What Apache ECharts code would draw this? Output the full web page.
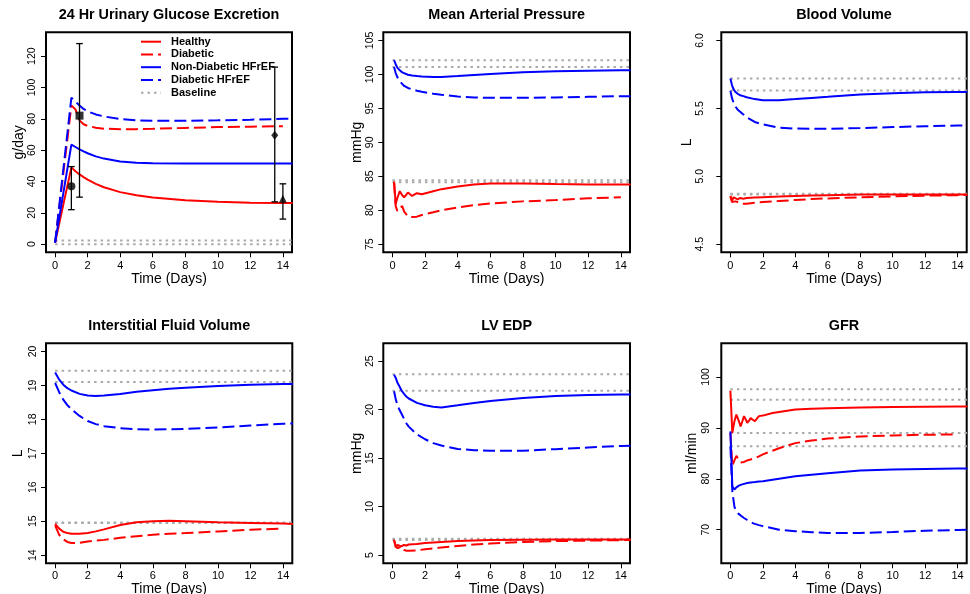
<!DOCTYPE html>
<html><head><meta charset="utf-8">
<script src="https://cdn.jsdelivr.net/npm/echarts@6/dist/echarts.min.js"></script>
<style>html,body{margin:0;padding:0;background:#fff}#c{width:970px;height:594px}</style>
</head><body><div id="c"></div><script>
// ---------------- DATA ----------------
const seriesNames = ['Healthy', 'Diabetic', 'Non-Diabetic HFrEF', 'Diabetic HFrEF'];
const panelTitles = ['24 Hr Urinary Glucose Excretion', 'Mean Arterial Pressure', 'Blood Volume',
                     'Interstitial Fluid Volume', 'LV EDP', 'GFR'];
const yUnits = ['g/day', 'mmHg', 'L', 'L', 'mmHg', 'ml/min'];
const xTicks = [0, 2, 4, 6, 8, 10, 12, 14];
const yTicks = [
  [0, 20, 40, 60, 80, 100, 120],
  [75, 80, 85, 90, 95, 100, 105],
  [4.5, 5.0, 5.5, 6.0],
  [14, 15, 16, 17, 18, 19, 20],
  [5, 10, 15, 20, 25],
  [70, 80, 90, 100]
];
const yMin = [-5.2, 73.8, 4.44, 13.76, 4.16, 63.4];
const yMax = [135.2, 106.2, 6.06, 20.24, 26.84, 106.6];

// Panel 1: 24 Hr urinary glucose excretion (g/day)
const tUGE = [0, 1, 1.25, 1.5, 1.75, 2, 2.5, 3, 4, 5, 6, 8, 10, 12, 14, 14.6];
const ugeHealthy  = [1, 49, 46.5, 44.5, 42.8, 41.2, 38.5, 36.3, 33.2, 31.2, 29.8, 28, 27, 26.5, 26.2, 26.2];
const ugeDiabetic = [1, 88.5, 86, 79, 76.5, 75.5, 74.3, 73.7, 73.3, 73.4, 73.6, 74.2, 74.7, 75, 75.3, null];
const ugeHF       = [1, 63.5, 62, 60.5, 59.2, 58, 56, 54.6, 52.8, 52, 51.6, 51.4, 51.4, 51.5, 51.5, 51.5];
const ugeDiabHF   = [1, 93.5, 91, 88.5, 86.3, 84.7, 82.8, 81.5, 79.8, 79, 78.7, 78.7, 79, 79.4, 80, 80];
const ugeBaseline = [0, 2.3];
// observed data with error bars
const obsDay   = [1, 1.5, 13.5, 14];
const obsMean  = [37, 82, 69.5, 29];
const obsLow   = [22, 30, 27, 16];
const obsHigh  = [49.5, 128, 113, 38.5];
const obsShape = ['circle', 'rect', 'diamond', 'triangle'];

// Panel 2: mean arterial pressure (mmHg)
const tMAP = [0.1, 0.2, 0.3, 0.45, 0.6, 0.72, 0.95, 1.2, 1.5, 1.8, 2.5, 3, 4, 5, 6, 8, 10, 12, 14, 14.6];
const mapHealthy  = [84.2, 80.9, 81.8, 82.8, 82.2, 81.9, 82.6, 82.1, 82.5, 82.35, 82.8, 83.1, 83.5, 83.8, 83.95, 83.95, 83.85, 83.8, 83.8, 83.8];
const mapDiabetic = [84.1, 80.6, 79.9, 80.4, 80.6, 79.8, 79.1, 79.0, 79.05, 79.3, 79.7, 80.0, 80.4, 80.75, 81.0, 81.3, 81.5, 81.75, 81.9, null];
const mapHF       = [102.1, 101.5, 101.0, 100.6, 100.3, 100.1, 99.95, 99.85, 99.75, 99.7, 99.62, 99.62, 99.75, 99.9, 100.05, 100.3, 100.45, 100.55, 100.6, 100.6];
const mapDiabHF   = [101.1, 100.2, 99.6, 99.0, 98.6, 98.3, 98.0, 97.8, 97.6, 97.45, 97.15, 97.0, 96.75, 96.6, 96.55, 96.55, 96.6, 96.7, 96.8, 96.8];
const mapBaseline = [102.1, 101.1, 84.4, 84.1];

// Panel 3: blood volume (L)
const tBV = [0, 0.1, 0.2, 0.3, 0.45, 0.6, 0.8, 1, 1.5, 2, 3, 4, 5, 6, 8, 10, 12, 14, 14.6];
const bvHealthy  = [4.855, 4.82, 4.845, 4.835, 4.83, 4.84, 4.835, 4.84, 4.843, 4.846, 4.85, 4.855, 4.858, 4.861, 4.865, 4.866, 4.866, 4.865, 4.865];
const bvDiabetic = [4.85, 4.81, 4.80, 4.815, 4.81, 4.80, 4.797, 4.798, 4.805, 4.81, 4.818, 4.825, 4.832, 4.837, 4.845, 4.852, 4.857, 4.861, 4.862];
const bvHF       = [5.72, 5.67, 5.64, 5.622, 5.607, 5.597, 5.59, 5.582, 5.568, 5.56, 5.56, 5.568, 5.577, 5.585, 5.602, 5.612, 5.618, 5.62, 5.62];
const bvDiabHF   = [5.63, 5.575, 5.54, 5.515, 5.49, 5.475, 5.455, 5.435, 5.40, 5.382, 5.358, 5.351, 5.349, 5.349, 5.355, 5.362, 5.368, 5.373, 5.374];
const bvBaseline = [5.72, 5.632, 4.872, 4.866];

// Panel 4: interstitial fluid volume (L)
const tISF = [0, 0.25, 0.5, 0.75, 1, 1.5, 2, 2.5, 3, 4, 5, 6, 7, 8, 10, 12, 14, 14.6];
const isfHealthy  = [14.92, 14.78, 14.69, 14.65, 14.63, 14.63, 14.65, 14.7, 14.76, 14.89, 14.97, 15.0, 15.01, 15.0, 14.97, 14.95, 14.93, 14.92];
const isfDiabetic = [14.88, 14.6, 14.47, 14.39, 14.36, 14.36, 14.4, 14.43, 14.45, 14.51, 14.56, 14.6, 14.63, 14.65, 14.7, 14.75, 14.78, null];
const isfHF       = [19.38, 19.17, 19.02, 18.92, 18.85, 18.75, 18.7, 18.69, 18.7, 18.75, 18.81, 18.86, 18.9, 18.93, 18.98, 19.02, 19.04, 19.04];
const isfDiabHF   = [19.07, 18.8, 18.58, 18.42, 18.3, 18.1, 17.95, 17.86, 17.8, 17.74, 17.71, 17.7, 17.71, 17.72, 17.76, 17.82, 17.87, 17.88];
const isfBaseline = [19.43, 19.10, 14.965, 14.945];

// Panel 5: LV end-diastolic pressure (mmHg)
const tLV = [0.1, 0.2, 0.3, 0.4, 0.55, 0.7, 0.85, 1, 1.5, 2, 2.5, 3, 4, 5, 6, 8, 10, 12, 14, 14.6];
const lvHealthy  = [6.6, 5.8, 6.05, 6.25, 5.9, 6.05, 6.0, 6.1, 6.15, 6.25, 6.3, 6.35, 6.45, 6.5, 6.55, 6.6, 6.62, 6.62, 6.62, 6.62];
const lvDiabetic = [6.5, 6.0, 5.7, 5.8, 5.9, 5.55, 5.45, 5.45, 5.5, 5.6, 5.7, 5.8, 5.95, 6.1, 6.2, 6.35, 6.45, 6.5, 6.55, 6.56];
const lvHF       = [23.6, 23.3, 22.8, 22.5, 22.0, 21.65, 21.35, 21.15, 20.7, 20.45, 20.3, 20.23, 20.45, 20.68, 20.9, 21.2, 21.4, 21.5, 21.55, 21.55];
const lvDiabHF   = [21.9, 21.1, 20.5, 20.1, 19.6, 19.1, 18.6, 18.25, 17.45, 16.95, 16.55, 16.3, 15.95, 15.82, 15.76, 15.76, 15.93, 16.1, 16.25, 16.28];
const lvBaseline = [23.66, 21.94, 6.68, 6.55];

// Panel 6: GFR (ml/min)
const tGFR = [0, 0.12, 0.25, 0.37, 0.5, 0.63, 0.74, 0.84, 0.94, 1.04, 1.15, 1.25, 1.38, 1.51, 1.76, 2, 2.6, 3, 4, 5, 6, 8, 10, 12, 14, 14.6];
const gfrHealthy  = [97.3, 89.0, 91.3, 92.6, 91.5, 90.3, 91.3, 92.3, 91.7, 91.0, 91.4, 91.9, 91.6, 91.3, 92.3, 92.4, 92.9, 93.1, 93.6, 93.75, 93.85, 94.0, 94.1, 94.15, 94.2, 94.2];
const gfrDiabetic = [89.0, 82.6, 83.6, 84.5, 83.8, 83.2, 83.0, 83.3, 83.6, 83.6, 83.7, 83.8, 83.9, 84.0, 84.4, 84.8, 85.5, 86.0, 87.0, 87.5, 87.9, 88.3, 88.5, 88.65, 88.7, null];
const gfrHF       = [89.3, 78.5, 77.9, 78.3, 78.6, 78.8, 78.9, 79.0, 79.1, 79.15, 79.2, 79.25, 79.3, 79.35, 79.45, 79.5, 79.8, 80.0, 80.5, 80.8, 81.1, 81.6, 81.8, 81.9, 82.0, 82.0];
const gfrDiabHF   = [86.4, 77.5, 74.5, 73.6, 73.1, 72.8, 72.5, 72.3, 72.1, 71.9, 71.7, 71.5, 71.3, 71.15, 70.9, 70.7, 70.3, 70.0, 69.7, 69.5, 69.35, 69.35, 69.55, 69.8, 69.95, 70.0];
const gfrBaseline = [97.6, 95.5, 89.0, 86.4];

// ---------------- LAYOUT / STYLE ----------------
const panels = [
  {t: tUGE, v: [ugeHealthy, ugeDiabetic, ugeHF, ugeDiabHF], base: ugeBaseline},
  {t: tMAP, v: [mapHealthy, mapDiabetic, mapHF, mapDiabHF], base: mapBaseline},
  {t: tBV,  v: [bvHealthy, bvDiabetic, bvHF, bvDiabHF], base: bvBaseline},
  {t: tISF, v: [isfHealthy, isfDiabetic, isfHF, isfDiabHF], base: isfBaseline},
  {t: tLV,  v: [lvHealthy, lvDiabetic, lvHF, lvDiabHF], base: lvBaseline},
  {t: tGFR, v: [gfrHealthy, gfrDiabetic, gfrHF, gfrDiabHF], base: gfrBaseline}
];
const gridPos = [[46, 32.3, 246, 220], [383.3, 32.3, 246.7, 220], [721.3, 32.3, 245.4, 220],
                 [46, 343.3, 246.3, 220], [383.3, 343.3, 246.7, 220], [721.3, 343.3, 245.4, 220]];
const yLabelMargin = [8.3, 7.3, 15.3, 7.7, 7.3, 10];
const yNameGap = [19, 19.6, 22.6, 20.7, 19.6, 19.3];
const xLabelMargin = [7.9, 7.9, 7.9, 7, 7, 7];
const xNameGap = [17.4, 17.4, 17.4, 17, 17, 17];
const lineColors = ['#ff0000', '#ff0000', '#0000ff', '#0000ff'];
const lineTypes = ['solid', [12, 5], 'solid', [12, 5]];
const FONT = 'Liberation Sans, Arial, Helvetica, sans-serif';

const grids = [], xAxes = [], yAxes = [], series = [], graphics = [];
panels.forEach((p, i) => {
  const [l, t, w, h] = gridPos[i];
  grids.push({left: l, top: t, width: w, height: h, show: true, borderColor: '#000', borderWidth: 2,
              backgroundColor: 'transparent', containLabel: false, outerBoundsMode: 'none'});
  xAxes.push({type: 'value', gridIndex: i, min: -0.56, max: 14.56, position: 'bottom',
    axisLine: {show: false, onZero: false}, splitLine: {show: false},
    axisTick: {show: true, inside: false, length: 5, customValues: xTicks, lineStyle: {color: '#000', width: 1}},
    axisLabel: {customValues: xTicks, color: '#000', fontSize: 11, fontFamily: FONT, margin: xLabelMargin[i]},
    name: 'Time (Days)', nameLocation: 'middle', nameGap: xNameGap[i],
    nameTextStyle: {color: '#000', fontSize: 14, fontFamily: FONT}});
  yAxes.push({type: 'value', gridIndex: i, min: yMin[i], max: yMax[i], position: 'left',
    axisLine: {show: false, onZero: false}, splitLine: {show: false},
    axisTick: {show: true, inside: false, length: 5, customValues: yTicks[i], lineStyle: {color: '#000', width: 1}},
    axisLabel: {customValues: yTicks[i], color: '#000', fontSize: 10.5, fontFamily: FONT, rotate: 90,
                margin: yLabelMargin[i], formatter: i === 2 ? (v => Number(v).toFixed(1)) : (v => String(v))},
    name: yUnits[i], nameLocation: 'middle', nameGap: yNameGap[i],
    nameTextStyle: {color: '#000', fontSize: 14, fontFamily: FONT}});
  // baselines
  p.base.forEach(b => {
    series.push({type: 'line', name: 'Baseline', xAxisIndex: i, yAxisIndex: i, z: 1,
      data: [[0, b], [14.6, b]], symbol: 'none', silent: true, animation: false,
      lineStyle: {color: '#aaaaaa', width: 2, type: [2.5, 4]}, itemStyle: {color: '#aaaaaa'}});
  });
  p.v.forEach((vals, k) => {
    const data = [];
    p.t.forEach((tt, j) => { if (vals[j] !== null) data.push([tt, vals[j]]); });
    series.push({type: 'line', name: seriesNames[k], xAxisIndex: i, yAxisIndex: i, z: 2 + k,
      data: data, symbol: 'none', silent: true, animation: false, clip: true,
      lineStyle: {color: lineColors[k], width: 2, type: lineTypes[k]}, itemStyle: {color: lineColors[k]}});
  });
  graphics.push({type: 'text', x: l + w / 2, y: t - 17, silent: true,
    style: {text: panelTitles[i], fill: '#000', font: 'bold 14.4px ' + FONT, textAlign: 'center', textVerticalAlign: 'middle'}});
});

// error bars and observed points on panel 1
series.push({type: 'custom', name: 'obsErr', xAxisIndex: 0, yAxisIndex: 0, z: 10, silent: true, animation: false,
  data: obsDay.map((d, i) => [d, obsLow[i], obsHigh[i]]),
  renderItem: function (params, api) {
    const x = api.value(0);
    const lo = api.coord([x, api.value(1)]);
    const hi = api.coord([x, api.value(2)]);
    const cw = 3.3;
    const st = {stroke: '#000', lineWidth: 1.3};
    return {type: 'group', children: [
      {type: 'line', shape: {x1: lo[0], y1: lo[1], x2: hi[0], y2: hi[1]}, style: st},
      {type: 'line', shape: {x1: lo[0] - cw, y1: lo[1], x2: lo[0] + cw, y2: lo[1]}, style: st},
      {type: 'line', shape: {x1: hi[0] - cw, y1: hi[1], x2: hi[0] + cw, y2: hi[1]}, style: st}
    ]};
  }});
series.push({type: 'scatter', name: 'obs', xAxisIndex: 0, yAxisIndex: 0, z: 11, silent: true, animation: false,
  data: obsDay.map((d, i) => ({value: [d, obsMean[i]], symbol: obsShape[i],
    symbolSize: obsShape[i] === 'rect' ? 8 : (obsShape[i] === 'diamond' ? [7, 9] : 8)})),
  itemStyle: {color: '#000'}});

const chart = echarts.init(document.getElementById('c'), null, {renderer: 'canvas'});
chart.setOption({
  animation: false,
  backgroundColor: '#fff',
  grid: grids, xAxis: xAxes, yAxis: yAxes, series: series, graphic: graphics,
  legend: {show: true, data: ['Healthy', 'Diabetic', 'Non-Diabetic HFrEF', 'Diabetic HFrEF', 'Baseline'],
    orient: 'vertical', left: 140, top: 35.7, padding: 0, itemWidth: 20, itemHeight: 12, itemGap: 0.75,
    selectedMode: false, itemStyle: {opacity: 0, borderWidth: 0},
    textStyle: {color: '#000', fontSize: 11, fontWeight: 'bold', fontFamily: FONT, lineHeight: 12, padding: [0, 0, 0, 5]}},
  tooltip: {show: false}
});
</script></body></html>
